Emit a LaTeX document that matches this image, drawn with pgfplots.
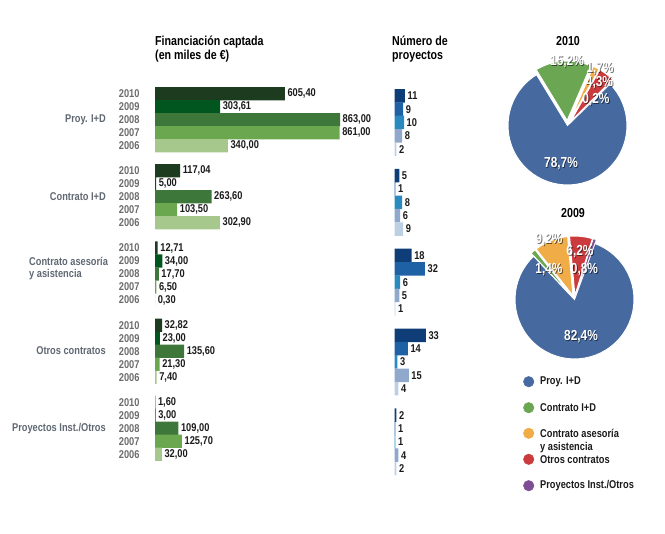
\documentclass[border=0pt]{standalone}
\usepackage{pgfplots}
\pgfplotsset{compat=1.18}
\usepackage{pgfplotstable}
\usepackage{fontspec}
\setmainfont{Liberation Sans}[FakeStretch=0.82]

\definecolor{g10}{HTML}{1D3B1E}
\definecolor{g09}{HTML}{01561F}
\definecolor{g08}{HTML}{3E773A}
\definecolor{g07}{HTML}{6AA74F}
\definecolor{g06}{HTML}{A6C88C}
\definecolor{b10}{HTML}{0F3D78}
\definecolor{b09}{HTML}{1E61A4}
\definecolor{b08}{HTML}{2A8AC0}
\definecolor{b07}{HTML}{8FA8CC}
\definecolor{b06}{HTML}{BDD0E3}
\definecolor{pblue}{HTML}{46699F}
\definecolor{pgreen}{HTML}{6BA653}
\definecolor{porange}{HTML}{EFAC47}
\definecolor{pred}{HTML}{CB3A3C}
\definecolor{ppurple}{HTML}{7D4E94}
\definecolor{ylab}{HTML}{6B6B6B}
\definecolor{glab}{HTML}{5F6873}
\definecolor{txt}{HTML}{1A1A1A}

\newcommand\lab{\fontsize{11.3}{13}\selectfont\bfseries}
\newcommand\ttl{\fontsize{13}{15}\selectfont\bfseries}
\newcommand\plf{\fontsize{14.5}{16}\selectfont\bfseries}

% Financiacion captada (miles de euros): x value, row position, label
\pgfplotstableread{
x y l
605.40 0 605,40
117.04 5.935 117,04
12.71 11.87 12,71
32.82 17.805 32,82
1.60 23.74 1,60
}\gA
\pgfplotstableread{
x y l
303.61 1 303,61
5.00 6.935 5,00
34.00 12.87 34,00
23.00 18.805 23,00
3.00 24.74 3,00
}\gB
\pgfplotstableread{
x y l
863.00 2 863,00
263.60 7.935 263,60
17.70 13.87 17,70
135.60 19.805 135,60
109.00 25.74 109,00
}\gC
\pgfplotstableread{
x y l
861.00 3 861,00
103.50 8.935 103,50
6.50 14.87 6,50
21.30 20.805 21,30
125.70 26.74 125,70
}\gD
\pgfplotstableread{
x y l
340.00 4 340,00
302.90 9.935 302,90
0.30 15.87 0,30
7.40 21.805 7,40
32.00 27.74 32,00
}\gE

% Numero de proyectos
\pgfplotstableread{
x y l
11 0 11
5 5.98 5
18 11.96 18
33 17.94 33
2 23.92 2
}\bA
\pgfplotstableread{
x y l
9 1 9
1 6.98 1
32 12.96 32
14 18.94 14
1 24.92 1
}\bB
\pgfplotstableread{
x y l
10 2 10
8 7.98 8
6 13.96 6
3 19.94 3
1 25.92 1
}\bC
\pgfplotstableread{
x y l
8 3 8
6 8.98 6
5 14.96 5
15 20.94 15
4 26.92 4
}\bD
\pgfplotstableread{
x y l
2 4 2
9 9.98 9
1 15.96 1
4 21.94 4
2 27.92 2
}\bE

\newcommand\plab[3]{%
  \node[font=\plf, text=black, opacity=0.55, inner sep=0pt, xshift=0.8pt, yshift=-0.8pt] at (axis cs:#1,#2) {#3};%
  \node[font=\plf, text=white, inner sep=0pt] at (axis cs:#1,#2) {#3};}

\begin{document}
\begin{tikzpicture}
\path[use as bounding box] (0,0) rectangle (665pt,534pt);

% ---------- green bars ----------
\begin{axis}[
  at={(155pt,446.8pt)}, anchor=north west,
  scale only axis,
  x=0.2144pt, y=13pt, y dir=reverse,
  xmin=0, xmax=870, ymin=-0.5, ymax=28.24,
  xbar, bar width=13.2pt,
  axis x line=none, axis y line=left,
  y axis line style={draw=none},
  ytick={0,1,2,3,4,5.935,6.935,7.935,8.935,9.935,11.87,12.87,13.87,14.87,15.87,17.805,18.805,19.805,20.805,21.805,23.74,24.74,25.74,26.74,27.74},
  yticklabels={2010,2009,2008,2007,2006,2010,2009,2008,2007,2006,2010,2009,2008,2007,2006,2010,2009,2008,2007,2006,2010,2009,2008,2007,2006},
  ytick style={draw=none}, major tick length=0pt,
  yticklabel style={font=\lab, text=ylab, xshift=-12pt},
  point meta=explicit symbolic,
  nodes near coords,
  every node near coord/.append style={font=\lab, text=txt, inner sep=2.5pt, anchor=west},
  clip=false,
]
\addplot[fill=g10, draw=none, bar shift=0pt] table[x=x, y=y, meta=l] {\gA};
\addplot[fill=g09, draw=none, bar shift=0pt] table[x=x, y=y, meta=l] {\gB};
\addplot[fill=g08, draw=none, bar shift=0pt] table[x=x, y=y, meta=l] {\gC};
\addplot[fill=g07, draw=none, bar shift=0pt] table[x=x, y=y, meta=l] {\gD};
\addplot[fill=g06, draw=none, bar shift=0pt] table[x=x, y=y, meta=l] {\gE};
\end{axis}

% ---------- blue bars ----------
\begin{axis}[
  at={(394.5pt,444.9pt)}, anchor=north west,
  scale only axis,
  x=0.95pt, y=13.35pt, y dir=reverse,
  xmin=0, xmax=40, ymin=-0.5, ymax=28.42,
  xbar, bar width=13.5pt,
  hide axis,
  point meta=explicit symbolic,
  nodes near coords,
  every node near coord/.append style={font=\lab, text=txt, inner sep=2.5pt, anchor=west},
  clip=false,
]
\addplot[fill=b10, draw=none, bar shift=0pt] table[x=x, y=y, meta=l] {\bA};
\addplot[fill=b09, draw=none, bar shift=0pt] table[x=x, y=y, meta=l] {\bB};
\addplot[fill=b08, draw=none, bar shift=0pt] table[x=x, y=y, meta=l] {\bC};
\addplot[fill=b07, draw=none, bar shift=0pt] table[x=x, y=y, meta=l] {\bD};
\addplot[fill=b06, draw=none, bar shift=0pt] table[x=x, y=y, meta=l] {\bE};
\end{axis}

% ---------- overlay: titles, labels, pies, legend ----------
\begin{axis}[
  at={(0pt,534pt)}, anchor=north west,
  scale only axis, width=665pt, height=534pt,
  xmin=0, xmax=665, ymin=0, ymax=534, y dir=reverse,
  hide axis, clip=false,
]
% titles
\node[anchor=base west, font=\ttl, text=black, inner sep=0pt] at (axis cs:155,46) {Financiación captada};
\node[anchor=base west, font=\ttl, text=black, inner sep=0pt] at (axis cs:155,59.5) {(en miles de €)};
\node[anchor=base west, font=\ttl, text=black, inner sep=0pt] at (axis cs:392,46) {Número de};
\node[anchor=base west, font=\ttl, text=black, inner sep=0pt] at (axis cs:392,59.5) {proyectos};

% group labels
\node[anchor=east, font=\lab, text=glab, inner sep=0pt] at (axis cs:106,119.7) {Proy. I+D};
\node[anchor=east, font=\lab, text=glab, inner sep=0pt] at (axis cs:106,196.7) {Contrato I+D};
\node[anchor=west, font=\lab, text=glab, inner sep=0pt] at (axis cs:29,261.5) {Contrato asesoría};
\node[anchor=west, font=\lab, text=glab, inner sep=0pt] at (axis cs:29,274.5) {y asistencia};
\node[anchor=east, font=\lab, text=glab, inner sep=0pt] at (axis cs:106,350.7) {Otros contratos};
\node[anchor=east, font=\lab, text=glab, inner sep=0pt] at (axis cs:106,428.3) {Proyectos Inst./Otros};

% pie 2010
\node[anchor=base, font=\ttl, text=black, inner sep=0pt] at (axis cs:568,46) {2010};
\addplot[fill=pblue, draw=white, line width=1pt] coordinates {(567.5,125.5) (536.55,74.68)} arc[start angle=121.34, end angle=404.3, radius=59.5pt] -- cycle;
\addplot[fill=ppurple, draw=white, line width=0.4pt] coordinates {(571.06,121.99) (613.64,80.44)} arc[start angle=44.3, end angle=45.02, radius=59.5pt] -- cycle;
\addplot[fill=pred, draw=white, line width=1pt] coordinates {(570.53,121.52) (612.59,79.44)} arc[start angle=45.02, end angle=60.5, radius=59.5pt] -- cycle;
\addplot[fill=porange, draw=white, line width=1pt] coordinates {(569.73,121.02) (599.03,69.23)} arc[start angle=60.5, end angle=66.62, radius=59.5pt] -- cycle;
\addplot[fill=pgreen, draw=white, line width=1pt] coordinates {(567.15,120.51) (590.76,65.89)} arc[start angle=66.62, end angle=121.34, radius=59.5pt] -- cycle;
\plab{567}{61.5}{15,2\%}
\plab{600}{69}{1,7\%}
\plab{599.5}{83}{4,3\%}
\plab{596}{100}{0,2\%}
\plab{561}{163.5}{78,7\%}

% pie 2009
\node[anchor=base, font=\ttl, text=black, inner sep=0pt] at (axis cs:573,218) {2009};
\addplot[fill=pblue, draw=white, line width=1pt] coordinates {(574.5,299.5) (533.67,256.22)} arc[start angle=133.36, end angle=430, radius=59.5pt] -- cycle;
\addplot[fill=ppurple, draw=white, line width=0.6pt] coordinates {(575.77,295.71) (596.12,239.80)} arc[start angle=70, end angle=72.88, radius=59.5pt] -- cycle;
\addplot[fill=pred, draw=white, line width=1pt] coordinates {(574.92,295.52) (592.44,238.66)} arc[start angle=72.88, end angle=95.2, radius=59.5pt] -- cycle;
\addplot[fill=porange, draw=white, line width=1pt] coordinates {(573.02,295.79) (567.63,236.53)} arc[start angle=95.2, end angle=128.32, radius=59.5pt] -- cycle;
\addplot[fill=pgreen, draw=white, line width=1pt] coordinates {(571.88,296.47) (534.99,249.79)} arc[start angle=128.32, end angle=133.36, radius=59.5pt] -- cycle;
\plab{549}{240}{9,2\%}
\plab{580}{252}{6,2\%}
\plab{549}{270}{1,4\%}
\plab{584.5}{270}{0,8\%}
\plab{581}{337}{82,4\%}

% legend
\addplot[only marks, mark=*, mark size=5.3pt, color=pblue] coordinates {(528.7,381.7)};
\addplot[only marks, mark=*, mark size=5.3pt, color=pgreen] coordinates {(528.7,407.7)};
\addplot[only marks, mark=*, mark size=5.3pt, color=porange] coordinates {(528.7,433.3)};
\addplot[only marks, mark=*, mark size=5.3pt, color=pred] coordinates {(528.7,459.3)};
\addplot[only marks, mark=*, mark size=5.3pt, color=ppurple] coordinates {(528.7,485.7)};
\node[anchor=west, font=\lab, text=txt, inner sep=0pt] at (axis cs:540,381.7) {Proy. I+D};
\node[anchor=west, font=\lab, text=txt, inner sep=0pt] at (axis cs:540,407.7) {Contrato I+D};
\node[anchor=west, font=\lab, text=txt, inner sep=0pt] at (axis cs:540,433.3) {Contrato asesoría};
\node[anchor=west, font=\lab, text=txt, inner sep=0pt] at (axis cs:540,447.3) {y asistencia};
\node[anchor=west, font=\lab, text=txt, inner sep=0pt] at (axis cs:540,459.3) {Otros contratos};
\node[anchor=west, font=\lab, text=txt, inner sep=0pt] at (axis cs:540,485.7) {Proyectos Inst./Otros};
\end{axis}
\end{tikzpicture}
\end{document}
